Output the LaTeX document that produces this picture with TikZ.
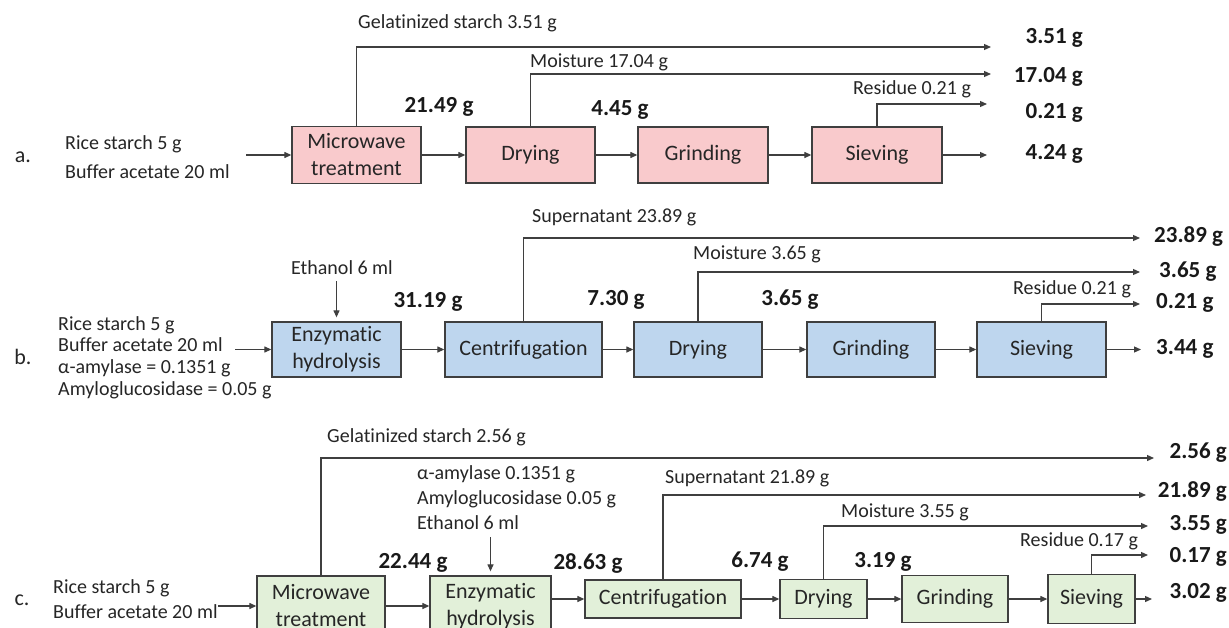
\documentclass[tikz,border=0pt]{standalone}
\usepackage{fontspec}
\setmainfont{Carlito}[Ligatures=NoCommon]
\usetikzlibrary{arrows.meta}
\definecolor{boxpink}{HTML}{F9CACC}
\definecolor{boxblue}{HTML}{BED6EE}
\definecolor{boxgreen}{HTML}{E2F0D9}
\definecolor{linegray}{HTML}{3F3F3F}
\begin{document}
\begin{tikzpicture}[x=1pt, y=-1pt, >={Triangle[length=7pt,width=6pt]},
    flow/.style={line width=1.2pt, color=linegray},
    stage/.style={draw=linegray, line width=1.3pt, align=center, inner sep=1pt,
      text=black!85, font=\fontsize{22}{27}\selectfont},
    note/.style={inner sep=0pt, text=black!85, font=\fontsize{20}{24}\selectfont},
    mass/.style={inner sep=0pt, text=black!90, font=\fontsize{23}{27}\selectfont\bfseries},
    tag/.style={inner sep=0pt, text=black!85, font=\fontsize{22}{26}\selectfont}]
    \path[use as bounding box, fill=white] (0,0) rectangle (1229,627);
    \clip (0,0) rectangle (1229,627);

    % a. Microwave route
    \node[tag] (la) at (23,157) {a.};
    \node[note, anchor=west, align=left, font=\fontsize{20}{29}\selectfont] (ina) at (65,157.5) {Rice starch 5 g\\Buffer acetate 20 ml};
    \node[stage, fill=boxpink, minimum width=129pt, minimum height=57pt] (ma) at (356.5,155) {Microwave\\treatment};
    \node[stage, fill=boxpink, minimum width=129pt, minimum height=56pt] (da) at (530.5,155) {Drying};
    \node[stage, fill=boxpink, minimum width=130pt, minimum height=56pt] (ga) at (703,155) {Grinding};
    \node[stage, fill=boxpink, minimum width=130pt, minimum height=56pt] (sa) at (877,155) {Sieving};

    \node[mass] (wa1) at (439,107) {21.49 g};
    \node[mass] (wa2) at (620,110) {4.45 g};

    \node[note, anchor=west] (ta1) at (358,23) {Gelatinized starch 3.51 g};
    \node[note, anchor=west] (ta2) at (530,62) {Moisture 17.04 g};
    \node[note, anchor=west] (ta3) at (853,89) {Residue 0.21 g};

    \coordinate (oa1) at (991,47);
    \coordinate (oa2) at (991,74);
    \coordinate (oa3) at (987,104);
    \coordinate (oa4) at (987,155);
    \node[mass, anchor=east] (ra1) at (1083,38) {3.51 g};
    \node[mass, anchor=east] (ra2) at (1083,77) {17.04 g};
    \node[mass, anchor=east] (ra3) at (1083,113) {0.21 g};
    \node[mass, anchor=east] (ra4) at (1083,154) {4.24 g};

    \draw[flow, ->] ([xshift=-45pt]ma.west) -- (ma.west);
    \draw[flow, ->] (ma.east) -- (da.west);
    \draw[flow, ->] (da.east) -- (ga.west);
    \draw[flow, ->] (ga.east) -- (sa.west);
    \draw[flow, ->] (sa.east) -- (oa4);
    \draw[flow, ->] (ma.north) |- (oa1);
    \draw[flow, ->] (da.north) |- (oa2);
    \draw[flow, ->] (sa.north) |- (oa3);

    % b. Enzymatic route
    \node[tag] (lb) at (23,357) {b.};
    \node[note, anchor=west, align=left, font=\fontsize{20}{21.7}\selectfont] (inb) at (58,357.5) {Rice starch 5 g\\Buffer acetate 20 ml\\α-amylase = 0.1351 g\\Amyloglucosidase = 0.05 g};
    \node[stage, fill=boxblue, minimum width=129pt, minimum height=55pt] (eb) at (336.5,349.5) {Enzymatic\\hydrolysis};
    \node[stage, fill=boxblue, minimum width=157pt, minimum height=55pt] (cb) at (523.5,349.5) {Centrifugation};
    \node[stage, fill=boxblue, minimum width=128pt, minimum height=55pt] (db) at (698,349.5) {Drying};
    \node[stage, fill=boxblue, minimum width=128pt, minimum height=55pt] (gb) at (871,349.5) {Grinding};
    \node[stage, fill=boxblue, minimum width=129pt, minimum height=55pt] (sb) at (1041.5,349.5) {Sieving};

    \node[note] (etb) at (342,268) {Ethanol 6 ml};
    \node[mass] (wb1) at (428,302) {31.19 g};
    \node[mass] (wb2) at (616,300) {7.30 g};
    \node[mass] (wb3) at (790,300) {3.65 g};

    \node[note, anchor=west] (tb1) at (532,217) {Supernatant 23.89 g};
    \node[note, anchor=west] (tb2) at (693,254) {Moisture 3.65 g};
    \node[note, anchor=west] (tb3) at (1013,289) {Residue 0.21 g};

    \coordinate (ob1) at (1140,238);
    \coordinate (ob2) at (1140,272);
    \coordinate (ob3) at (1140,304);
    \coordinate (ob4) at (1141,349.5);
    \node[mass, anchor=west] (rb1) at (1154,237) {23.89 g};
    \node[mass, anchor=west] (rb2) at (1159,272) {3.65 g};
    \node[mass, anchor=west] (rb3) at (1156,303) {0.21 g};
    \node[mass, anchor=west] (rb4) at (1156,349) {3.44 g};

    \draw[flow, ->] ([xshift=-36pt]eb.west) -- (eb.west);
    \draw[flow, ->] (eb.north) ++(0,-40) -- ++(0,36);
    \draw[flow, ->] (eb.east) -- (cb.west);
    \draw[flow, ->] (cb.east) -- (db.west);
    \draw[flow, ->] (db.east) -- (gb.west);
    \draw[flow, ->] (gb.east) -- (sb.west);
    \draw[flow, ->] (sb.east) -- (ob4);
    \draw[flow, ->] (cb.north) |- (ob1);
    \draw[flow, ->] (db.north) |- (ob2);
    \draw[flow, ->] (sb.north) |- (ob3);

    % c. Combined route
    \node[tag] (lc) at (22,600) {c.};
    \node[note, anchor=west, align=left, font=\fontsize{20}{25}\selectfont] (inc) at (53,599.5) {Rice starch 5 g\\Buffer acetate 20 ml};
    \node[stage, fill=boxgreen, minimum width=128pt, minimum height=60pt, font=\fontsize{22}{27}\selectfont] (mc) at (321,606) {Microwave\\treatment};
    \node[stage, fill=boxgreen, minimum width=121pt, minimum height=60pt, font=\fontsize{22}{27}\selectfont] (ec) at (490.5,606) {Enzymatic\\hydrolysis};
    \node[stage, fill=boxgreen, minimum width=156pt, minimum height=38pt] (cc) at (663,599) {Centrifugation};
    \node[stage, fill=boxgreen, minimum width=87pt, minimum height=39pt] (dc) at (823.5,599) {Drying};
    \node[stage, fill=boxgreen, minimum width=106pt, minimum height=47pt] (gc) at (955,599) {Grinding};
    \node[stage, fill=boxgreen, minimum width=87pt, minimum height=49pt] (sc) at (1091.5,599) {Sieving};

    \node[note, anchor=west, align=left, font=\fontsize{20}{25}\selectfont] (adc) at (417,498) {α-amylase 0.1351 g\\Amyloglucosidase 0.05 g\\Ethanol 6 ml};
    \node[mass] (wc1) at (413,563) {22.44 g};
    \node[mass] (wc2) at (588,563) {28.63 g};
    \node[mass] (wc3) at (760,562) {6.74 g};
    \node[mass] (wc4) at (883,562) {3.19 g};

    \node[note, anchor=west] (tc1) at (327,437) {Gelatinized starch 2.56 g};
    \node[note, anchor=west] (tc2) at (665,478) {Supernatant 21.89 g};
    \node[note, anchor=west] (tc3) at (841,512) {Moisture 3.55 g};
    \node[note, anchor=west] (tc4) at (1020,541) {Residue 0.17 g};

    \coordinate (oc1) at (1154,458);
    \coordinate (oc2) at (1146,495);
    \coordinate (oc3) at (1148,526);
    \coordinate (oc4) at (1148,555);
    \coordinate (oc5) at (1152,599);
    \node[mass, anchor=east] (rc1) at (1227,453) {2.56 g};
    \node[mass, anchor=east] (rc2) at (1227,492) {21.89 g};
    \node[mass, anchor=east] (rc3) at (1227,525) {3.55 g};
    \node[mass, anchor=east] (rc4) at (1227,557) {0.17 g};
    \node[mass, anchor=east] (rc5) at (1227,593) {3.02 g};

    \draw[flow, ->] ([xshift=-38pt]mc.west) -- (mc.west);
    \draw[flow, ->] (ec.north) ++(0,-38) -- ++(0,34);
    \draw[flow, ->] (mc.east) -- (ec.west);
    \draw[flow, ->] (ec.east |- cc.west) -- (cc.west);
    \draw[flow, ->] (cc.east) -- (dc.west);
    \draw[flow, ->] (dc.east) -- (gc.west);
    \draw[flow, ->] (gc.east) -- (sc.west);
    \draw[flow, ->] (sc.east) -- (oc5);
    \draw[flow, ->] (mc.north) |- (oc1);
    \draw[flow, ->] (cc.north) |- (oc2);
    \draw[flow, ->] (dc.north) |- (oc3);
    \draw[flow, ->] (sc.north) |- (oc4);
\end{tikzpicture}
\end{document}
